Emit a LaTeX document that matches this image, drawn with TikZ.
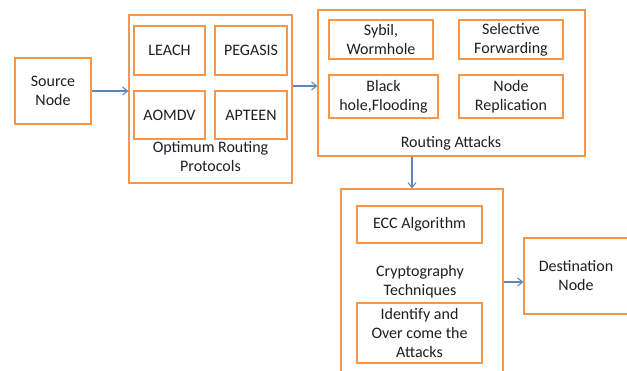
\documentclass[tikz,border=0pt]{standalone}
\usepackage{fontspec}
\setmainfont{Carlito}
\usetikzlibrary{arrows.meta}
\definecolor{boxorange}{RGB}{247,150,70}
\definecolor{arrblue}{RGB}{91,135,190}
\definecolor{txt}{RGB}{30,30,35}
\begin{document}
\begin{tikzpicture}[x=1pt,y=-1pt,
  box/.style={draw=boxorange,line width=1.2pt,inner sep=0pt,align=center,text=txt,font=\fontsize{16}{19}\selectfont},
  lbl/.style={inner sep=0pt,align=center,text=txt,font=\fontsize{16}{19}\selectfont},
  arr/.style={draw=arrblue,line width=1.1pt,-{Straight Barb[length=5pt,width=8pt]}}]
\useasboundingbox (0,0) rectangle (627,371);
\clip (0,0) rectangle (627,371);
% outer boxes
\node[box,minimum width=76pt,minimum height=66pt] (src) at (53,91) {Source\\Node};
\node[box,minimum width=163pt,minimum height=168pt] (opt) at (210.5,99) {};
\node[box,minimum width=267pt,minimum height=146pt] (rout) at (451.5,83) {};
\node[box,minimum width=162pt,minimum height=191pt] (cryp) at (422,284.5) {};
\node[box,minimum width=104pt,minimum height=76pt] (dest) at (576,276) {Destination\\Node};
% protocols
\node[box,minimum width=71pt,minimum height=49pt] (leach) at (169.5,50.5) {LEACH};
\node[box,minimum width=72pt,minimum height=49pt] (pegasis) at (251,50.5) {PEGASIS};
\node[box,minimum width=71pt,minimum height=48pt] (aomdv) at (169.5,115) {AOMDV};
\node[box,minimum width=72pt,minimum height=48pt] (apteen) at (251,115) {APTEEN};
\node[lbl] (optl) at (210.5,156.5) {Optimum Routing\\Protocols};
% attacks
\node[box,minimum width=104pt,minimum height=39pt] (sybil) at (381,39.5) {Sybil,\\Wormhole};
\node[box,minimum width=104pt,minimum height=39pt] (selfw) at (511,39.5) {Selective\\Forwarding};
\node[box,minimum width=109pt,minimum height=43pt] (black) at (383.5,96.5) {Black\\hole,Flooding};
\node[box,minimum width=104pt,minimum height=43pt] (nrep) at (511,96.5) {Node\\Replication};
\node[lbl] (routl) at (451,143) {Routing Attacks};
% crypto
\node[box,minimum width=125pt,minimum height=37pt] (ecc) at (419.5,224.5) {ECC Algorithm};
\node[lbl] (crypl) at (420,282) {Cryptography\\Techniques};
\node[box,minimum width=125pt,minimum height=60pt] (ident) at (419.5,333) {Identify and\\Over come the\\Attacks};
% arrows
\coordinate (a1) at (0,86);
\coordinate (a2) at (412,0);
\coordinate (a3) at (0,282);
\draw[arr] (src.east) -- (opt.west |- src.east);
\draw[arr] (opt.east |- a1) -- (rout.west |- a1);
\draw[arr] (rout.south -| a2) -- (cryp.north -| a2);
\draw[arr] (cryp.east |- a3) -- (dest.west |- a3);
\end{tikzpicture}
\end{document}
